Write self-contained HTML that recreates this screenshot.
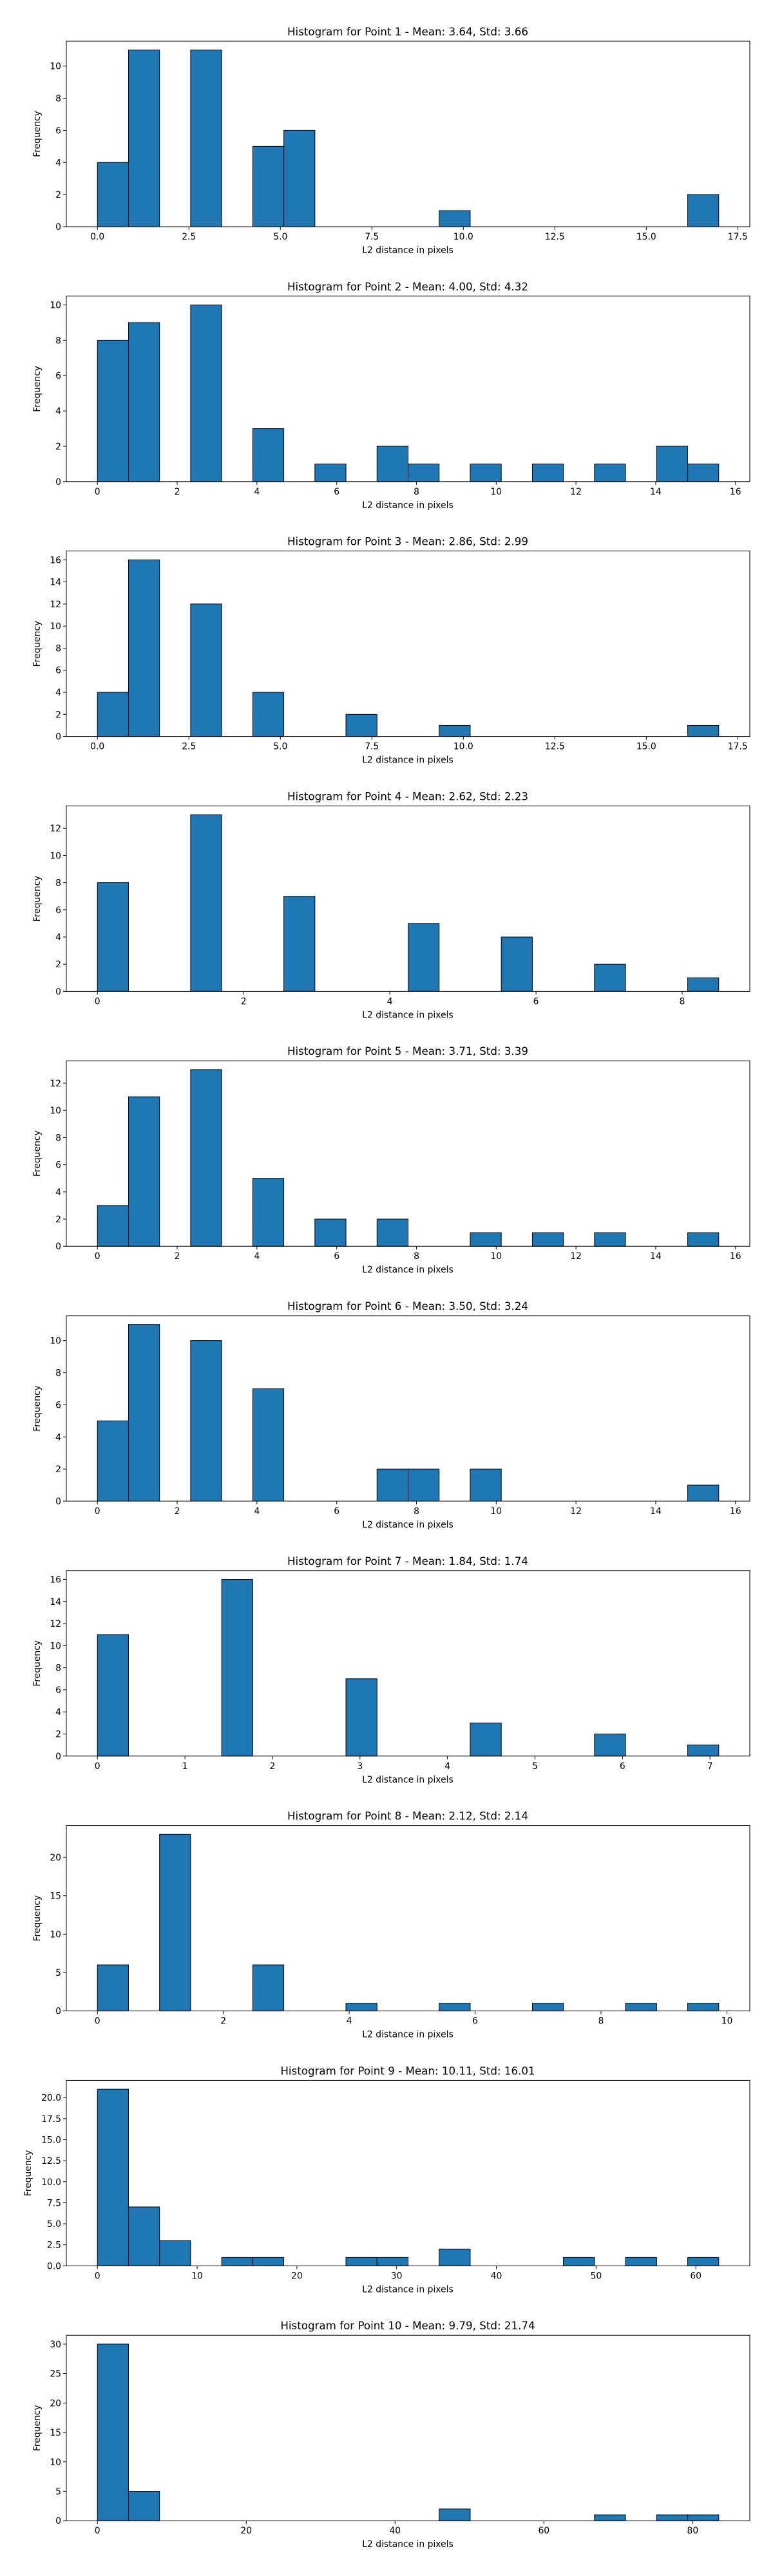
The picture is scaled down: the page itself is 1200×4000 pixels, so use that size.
<!DOCTYPE html>
<html><head><meta charset="utf-8"><style>
html,body{margin:0;padding:0;background:#fff;}
svg{display:block;font-family:"DejaVu Sans","Liberation Sans",sans-serif;}
</style></head><body>
<svg id="chart" width="1200" height="4000" viewBox="0 0 1200 4000" xmlns="http://www.w3.org/2000/svg"></svg>
<script>
const titles = ["Histogram for Point 1 - Mean: 3.64, Std: 3.66","Histogram for Point 2 - Mean: 4.00, Std: 4.32","Histogram for Point 3 - Mean: 2.86, Std: 2.99","Histogram for Point 4 - Mean: 2.62, Std: 2.23","Histogram for Point 5 - Mean: 3.71, Std: 3.39","Histogram for Point 6 - Mean: 3.50, Std: 3.24","Histogram for Point 7 - Mean: 1.84, Std: 1.74","Histogram for Point 8 - Mean: 2.12, Std: 2.14","Histogram for Point 9 - Mean: 10.11, Std: 16.01","Histogram for Point 10 - Mean: 9.79, Std: 21.74"];
const binMax = [16.98, 15.58, 16.98, 8.5, 15.58, 15.58, 7.1, 9.87, 62.3, 83.5];
const counts1 = [4,11,0,11,0,5,6,0,0,0,0,1,0,0,0,0,0,0,0,2];
const counts2 = [8,9,0,10,0,3,0,1,0,2,1,0,1,0,1,0,1,0,2,1];
const counts3 = [4,16,0,12,0,4,0,0,2,0,0,1,0,0,0,0,0,0,0,1];
const counts4 = [8,0,0,13,0,0,7,0,0,0,5,0,0,4,0,0,2,0,0,1];
const counts5 = [3,11,0,13,0,5,0,2,0,2,0,0,1,0,1,0,1,0,0,1];
const counts6 = [5,11,0,10,0,7,0,0,0,2,2,0,2,0,0,0,0,0,0,1];
const counts7 = [11,0,0,0,16,0,0,0,7,0,0,0,3,0,0,0,2,0,0,1];
const counts8 = [6,0,23,0,0,6,0,0,1,0,0,1,0,0,1,0,0,1,0,1];
const counts9 = [21,7,3,0,1,1,0,0,1,1,0,2,0,0,0,1,0,1,0,1];
const counts10 = [30,5,0,0,0,0,0,0,0,0,0,2,0,0,0,0,1,0,1,1];
const allCounts = [counts1,counts2,counts3,counts4,counts5,counts6,counts7,counts8,counts9,counts10];
const xTicks = [[0,2.5,5,7.5,10,12.5,15,17.5],[0,2,4,6,8,10,12,14,16],[0,2.5,5,7.5,10,12.5,15,17.5],[0,2,4,6,8],[0,2,4,6,8,10,12,14,16],[0,2,4,6,8,10,12,14,16],[0,1,2,3,4,5,6,7],[0,2,4,6,8,10],[0,10,20,30,40,50,60],[0,20,40,60,80]];
const xTickLabels = [["0.0","2.5","5.0","7.5","10.0","12.5","15.0","17.5"],["0","2","4","6","8","10","12","14","16"],["0.0","2.5","5.0","7.5","10.0","12.5","15.0","17.5"],["0","2","4","6","8"],["0","2","4","6","8","10","12","14","16"],["0","2","4","6","8","10","12","14","16"],["0","1","2","3","4","5","6","7"],["0","2","4","6","8","10"],["0","10","20","30","40","50","60"],["0","20","40","60","80"]];
const yTicks = [[0,2,4,6,8,10],[0,2,4,6,8,10],[0,2,4,6,8,10,12,14,16],[0,2,4,6,8,10,12],[0,2,4,6,8,10,12],[0,2,4,6,8,10],[0,2,4,6,8,10,12,14,16],[0,5,10,15,20],[0,2.5,5,7.5,10,12.5,15,17.5,20],[0,5,10,15,20,25,30]];
const yTickLabels = [["0","2","4","6","8","10"],["0","2","4","6","8","10"],["0","2","4","6","8","10","12","14","16"],["0","2","4","6","8","10","12"],["0","2","4","6","8","10","12"],["0","2","4","6","8","10"],["0","2","4","6","8","10","12","14","16"],["0","5","10","15","20"],["0.0","2.5","5.0","7.5","10.0","12.5","15.0","17.5","20.0"],["0","5","10","15","20","25","30"]];

const NS="http://www.w3.org/2000/svg";
const svg=document.getElementById('chart');
function mk(tag,attrs,parent){const e=document.createElementNS(NS,tag);for(const k in attrs)e.setAttribute(k,attrs[k]);parent.appendChild(e);return e;}
const L=103,R=1164,H=288;
for(let p=0;p<10;p++){
  const top=64+395.8*p, bot=top+H;
  const g=mk('g',{},svg);
  
  
  const c=allCounts[p], mx=binMax[p], n=c.length, bw=mx/n;
  const x0=-0.05*mx, x1=mx*1.05;
  const ymax=Math.max(...c)*1.05;
  const xs=v=>L+(v-x0)/(x1-x0)*(R-L);
  const ys=v=>bot-v/ymax*H;
  const t=mk('text',{x:633,y:top-9,'text-anchor':'middle','font-size':'16.7',fill:'#000'},g);
  t.textContent=titles[p];
  
  
  for(let i=0;i<n;i++){
    const r=mk('rect',{x:xs(i*bw),y:ys(c[i]),width:xs((i+1)*bw)-xs(i*bw),height:bot-ys(c[i]),fill:'#1f77b4',stroke:'#000','stroke-width':1},g);
    
    
  }
  const fr=mk('rect',{x:L,y:top,width:R-L,height:H,fill:'none',stroke:'#000','stroke-width':1},g);
  
  
  xTicks[p].forEach((v,i)=>{
    const x=xs(v);
    mk('line',{x1:x,x2:x,y1:bot,y2:bot+5,stroke:'#000'},g);
    const tx=mk('text',{x:x,y:bot+20,'text-anchor':'middle','font-size':'13.9',fill:'#000'},g);
    tx.textContent=xTickLabels[p][i];
    
    
  });
  yTicks[p].forEach((v,i)=>{
    const y=ys(v);
    mk('line',{x1:L-5,x2:L,y1:y,y2:y,stroke:'#000'},g);
    const ty=mk('text',{x:L-8,y:y+5,'text-anchor':'end','font-size':'13.9',fill:'#000'},g);
    ty.textContent=yTickLabels[p][i];
    
    
  });
  const xl=mk('text',{x:633,y:bot+41,'text-anchor':'middle','font-size':'13.9',fill:'#000'},g);
  xl.textContent='L2 distance in pixels';
  
  
  const ylx=(p===8)?48:62, cy=top+H/2;
  const yl=mk('text',{x:ylx,y:cy,'text-anchor':'middle','font-size':'13.9',fill:'#000',transform:'rotate(-90 '+ylx+' '+cy+')'},g);
  yl.textContent='Frequency';
  
  
}
</script>
</body></html>
